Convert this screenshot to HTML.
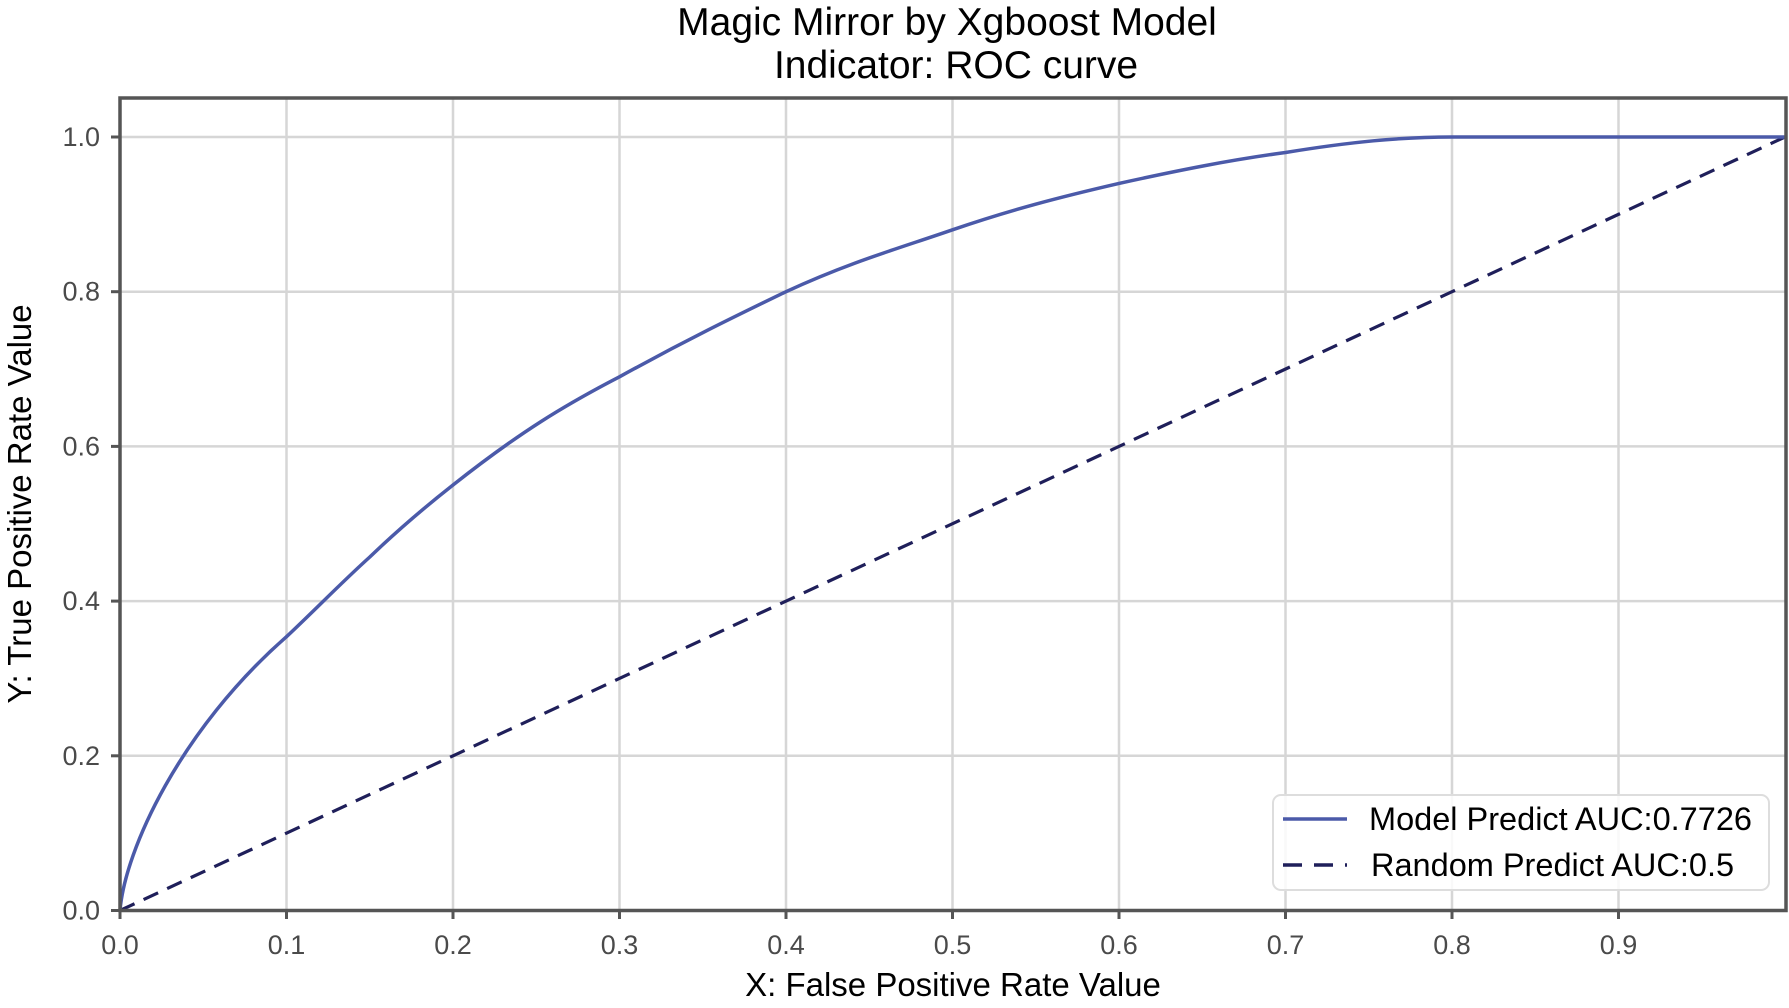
<!DOCTYPE html>
<html><head><meta charset="utf-8"><style>body{margin:0;background:#fff}svg{display:block}</style></head><body>
<svg width="1789" height="1008" viewBox="0 0 1789 1008" xmlns="http://www.w3.org/2000/svg" font-family="Liberation Sans, DejaVu Sans, sans-serif">
<rect width="1789" height="1008" fill="#fff"/>
<g stroke="#d6d6d6" stroke-width="2.5">
<line x1="286.5" y1="98" x2="286.5" y2="910"/><line x1="453" y1="98" x2="453" y2="910"/><line x1="619.5" y1="98" x2="619.5" y2="910"/><line x1="786" y1="98" x2="786" y2="910"/><line x1="952.5" y1="98" x2="952.5" y2="910"/><line x1="1119" y1="98" x2="1119" y2="910"/><line x1="1285.5" y1="98" x2="1285.5" y2="910"/><line x1="1452" y1="98" x2="1452" y2="910"/><line x1="1618.5" y1="98" x2="1618.5" y2="910"/>
<line x1="120" y1="137" x2="1786" y2="137"/><line x1="120" y1="291.7" x2="1786" y2="291.7"/><line x1="120" y1="446.4" x2="1786" y2="446.4"/><line x1="120" y1="601.1" x2="1786" y2="601.1"/><line x1="120" y1="755.8" x2="1786" y2="755.8"/>
</g>
<line x1="120" y1="910.5" x2="1785" y2="137" stroke="#1f1f5a" stroke-width="3.2" stroke-dasharray="16,10"/>
<path d="M120,910.5 C125,850 180,730 286.5,636.7 C315,610 342,582 369.8,557 C400,528 425,507 453,485 C520,432 565,405 619.5,376.8 C690,338 740,314 786,291.7 C850,262 900,248 952.5,229.8 C1010,210 1060,197 1119,183.4 C1180,170 1230,160 1285.5,152.5 C1350,142 1400,137 1452,137 L1785,137" fill="none" stroke="#4b5aa9" stroke-width="3.5"/>
<rect x="120" y="98" width="1666" height="812.5" fill="none" stroke="#555" stroke-width="3.5"/>
<g stroke="#555" stroke-width="3">
<line x1="120" y1="911" x2="120" y2="919"/><line x1="286.5" y1="911" x2="286.5" y2="919"/><line x1="453" y1="911" x2="453" y2="919"/><line x1="619.5" y1="911" x2="619.5" y2="919"/><line x1="786" y1="911" x2="786" y2="919"/><line x1="952.5" y1="911" x2="952.5" y2="919"/><line x1="1119" y1="911" x2="1119" y2="919"/><line x1="1285.5" y1="911" x2="1285.5" y2="919"/><line x1="1452" y1="911" x2="1452" y2="919"/><line x1="1618.5" y1="911" x2="1618.5" y2="919"/>
<line x1="111" y1="137" x2="119" y2="137"/><line x1="111" y1="291.7" x2="119" y2="291.7"/><line x1="111" y1="446.4" x2="119" y2="446.4"/><line x1="111" y1="601.1" x2="119" y2="601.1"/><line x1="111" y1="755.8" x2="119" y2="755.8"/><line x1="111" y1="910.5" x2="119" y2="910.5"/>
</g>
<g fill="#4a4a4a" font-size="27" text-anchor="middle">
<text x="120" y="954">0.0</text><text x="286.5" y="954">0.1</text><text x="453" y="954">0.2</text><text x="619.5" y="954">0.3</text><text x="786" y="954">0.4</text><text x="952.5" y="954">0.5</text><text x="1119" y="954">0.6</text><text x="1285.5" y="954">0.7</text><text x="1452" y="954">0.8</text><text x="1618.5" y="954">0.9</text>
</g>
<g fill="#4a4a4a" font-size="27" text-anchor="end">
<text x="100" y="146">1.0</text><text x="100" y="300.7">0.8</text><text x="100" y="455.4">0.6</text><text x="100" y="610.1">0.4</text><text x="100" y="764.8">0.2</text><text x="100" y="919.5">0.0</text>
</g>
<g fill="#000" text-anchor="middle">
<text x="947" y="35" font-size="39">Magic Mirror by Xgboost Model</text>
<text x="956" y="78" font-size="39">Indicator: ROC curve</text>
<text x="953" y="996" font-size="33">X: False Positive Rate Value</text>
<text transform="translate(31,504) rotate(-90)" font-size="33">Y: True Positive Rate Value</text>
</g>
<rect x="1273" y="795" width="496" height="95" rx="8" fill="#fff" fill-opacity="0.85" stroke="#ddd" stroke-width="2"/>
<line x1="1283" y1="819" x2="1347" y2="819" stroke="#4b5aa9" stroke-width="3.5"/>
<line x1="1283" y1="865" x2="1347" y2="865" stroke="#1f1f5a" stroke-width="3.5" stroke-dasharray="19,12"/>
<g fill="#000" font-size="32.5">
<text x="1369" y="830">Model Predict AUC:0.7726</text>
<text x="1371" y="876">Random Predict AUC:0.5</text>
</g>
</svg>
</body></html>
